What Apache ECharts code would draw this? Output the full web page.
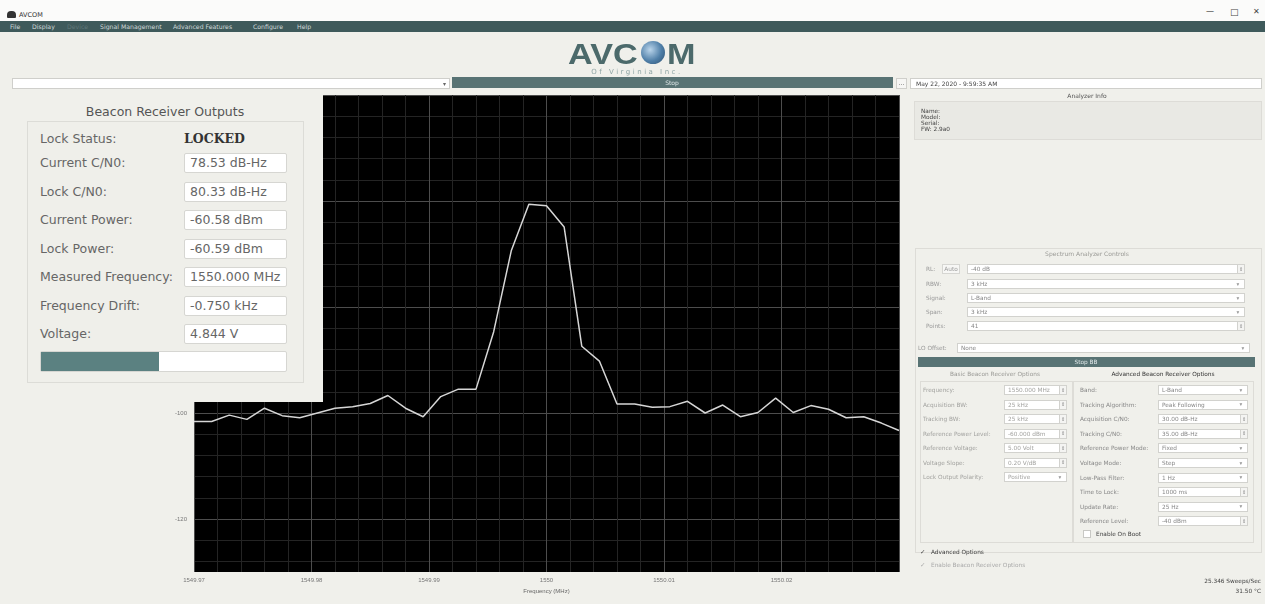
<!DOCTYPE html>
<html><head><meta charset="utf-8">
<script src="https://cdn.jsdelivr.net/npm/echarts@6/dist/echarts.min.js"></script>
<style>
html,body{margin:0;padding:0;width:1265px;height:604px;overflow:hidden;background:#f0f0eb;font-family:"DejaVu Sans",sans-serif;}
#chart{position:absolute;left:0;top:0;width:1265px;height:604px;z-index:1;}
.b{position:absolute;z-index:2;box-sizing:border-box;}
.t{position:absolute;z-index:3;white-space:nowrap;}
</style></head>
<body>
<div id="chart"></div>
<script>
// ---- data ----
const freqMHz = [1549.9700,1549.9715,1549.9730,1549.9745,1549.9760,1549.9775,1549.9790,1549.9805,1549.9820,1549.9835,
1549.9850,1549.9865,1549.9880,1549.9895,1549.9910,1549.9925,1549.9940,1549.9955,1549.9970,1549.9985,
1550.0000,1550.0015,1550.0030,1550.0045,1550.0060,1550.0075,1550.0090,1550.0105,1550.0120,1550.0135,
1550.0150,1550.0165,1550.0180,1550.0195,1550.0210,1550.0225,1550.0240,1550.0255,1550.0270,1550.0285,1550.0300];
const powerDbm = [-101.6,-101.6,-100.4,-101.2,-99.1,-100.5,-100.9,-100.0,-99.1,-98.8,
-98.2,-96.7,-99.1,-100.7,-96.9,-95.5,-95.5,-84.7,-69.4,-60.6,
-60.9,-64.9,-87.4,-90.2,-98.3,-98.3,-98.9,-98.8,-97.8,-100.0,
-98.5,-100.7,-99.9,-97.2,-99.9,-98.6,-99.3,-100.9,-100.7,-101.9,-103.3];
const yTickLabels = [-120,-100,-80,-60,-40];
const xAxisName = "Frequency (MHz)";

const outLabels = ["Current C/N0:","Lock C/N0:","Current Power:","Lock Power:","Measured Frequency:","Frequency Drift:","Voltage:"];
const outValues = ["78.53 dB-Hz","80.33 dB-Hz","-60.58 dBm","-60.59 dBm","1550.000 MHz","-0.750 kHz","4.844 V"];

// ---- helpers ----
function B(x,y,w,h,css){const d=document.createElement('div');d.className='b';d.style.cssText+=`left:${x}px;top:${y}px;width:${w}px;height:${h}px;`+(css||'');document.body.appendChild(d);return d;}
function T(x,yc,s,size,color,align,extra){const d=document.createElement('div');d.className='t';d.textContent=s;
 const lh=Math.round(size*1.3);d.style.cssText+=`top:${yc-lh/2}px;font-size:${size}px;line-height:${lh}px;color:${color};`+(extra||'');
 if(align==='center'){d.style.left=x+'px';d.style.transform='translateX(-50%)';}
 else if(align==='right'){d.style.right=(1265-x)+'px';}
 else d.style.left=x+'px';
 document.body.appendChild(d);return d;}

// ---- window chrome ----
B(0,0,1265,21,'background:#fbfbfa;');
B(7,11,9,7,'background:#333;border-radius:4px 4px 1px 1px;');
T(19,15,'AVCOM',6.5,'#333','left');
T(1206,12,'—',8,'#444','left');
T(1230,12,'□',9,'#444','left');
T(1253,12,'✕',8,'#444','left');
B(0,21,1265,11,'background:#3f5a5b;');
[['File',10,'#cfd8d8'],['Display',32,'#cfd8d8'],['Device',67,'#5f7778'],['Signal Management',100,'#cfd8d8'],['Advanced Features',173,'#cfd8d8'],['Configure',253,'#cfd8d8'],['Help',297,'#cfd8d8']]
 .forEach(m=>T(m[1],26.5,m[0],6.2,m[2],'left'));

// logo
const logoCss='font-family:"Liberation Sans",sans-serif;font-weight:bold;transform-origin:left center;transform:scaleX(1.14);';
T(568,53,'AVC',30,'#4c6a6b','left',logoCss);
B(641,41,24,23,'background:radial-gradient(circle at 38% 38%,#b9d4ea,#4f7fa8 55%,#2d4f6e);border-radius:50%;z-index:4;');
T(667,53,'M',30,'#4c6a6b','left',logoCss);
T(637,72,'Of Virginia Inc.',7,'#8fa5a5','center','letter-spacing:2.5px;');

// toolbar row
B(12,78,438,11,'background:#fff;border:1px solid #cfcfcb;');
T(443,83.5,'▾',6,'#666','left');
B(452,77,441,11,'background:#587374;');
T(672,82.5,'Stop',6,'#dfe8e8','center');
B(896,78,11,11,'background:#f6f6f4;border:1px solid #cfcfcb;');
T(901.5,82.5,'...',6,'#555','center');
B(910,78,352,11,'background:#fff;border:1px solid #cfcfcb;');
T(916,83.5,'May 22, 2020 - 9:59:35 AM',6,'#444','left');

// ---- left panel ----
B(0,90,323,312,'background:#f0f0eb;z-index:2;');
T(165,112,'Beacon Receiver Outputs',12.5,'#555','center');
B(27,121,277,262,'border:1px solid #dcdcd7;background:#efefea;z-index:2;');
T(40,139,'Lock Status:',12.5,'#666','left');
T(184,139,'LOCKED',12.5,'#333','left','font-family:"DejaVu Serif",serif;font-weight:bold;');
const rowY=[163,192,220,249,277,306,334];
outLabels.forEach((l,i)=>{
  T(40,rowY[i],l,12.5,'#666','left');
  B(184,rowY[i]-10,103,20,'background:#fff;border:1px solid #d6d6d2;border-radius:2px;z-index:3;');
  T(190,rowY[i],outValues[i],12.5,'#666','left','z-index:4;');
});
B(40,351,247,21,'background:#fff;border:1px solid #d6d6d2;border-radius:2px;z-index:3;');
B(41,352,118,19,'background:#5b8181;z-index:4;');

// ---- right panel ----
T(1087,96,'Analyzer Info',6,'#555','center');
B(914,101,348,39,'border:1px solid #dddcd7;background:#e9e9e4;');
['Name:','Model:','Serial:','FW: 2.9a0'].forEach((s,i)=>T(921,111+i*6,s,5.8,'#444','left'));

B(915,248,347,305,'border:1px solid #dddcd7;');
T(1087,254,'Spectrum Analyzer Controls',6,'#9a9a96','center');
function field(x,yc,w,val,kind,col){
  B(x,yc-5,w,10,'background:#fff;border:1px solid #d2d2ce;');
  T(x+4,yc,val,5.8,col||'#888','left');
  if(kind==='spin'){B(x+w-8,yc-5,8,10,'background:#f4f4f2;border:1px solid #d2d2ce;');T(x+w-4,yc,'⇕',5,'#888','center');}
  if(kind==='combo'){T(x+w-7,yc,'▾',5.5,'#999','center');}
}
T(926,269,'RL:',5.8,'#999','left');
B(942,264,18,10,'background:#f7f7f5;border:1px solid #d6d6d2;');T(951,269,'Auto',5.8,'#999','center');
field(967,269,278,'-40 dB','spin');
[['RBW:','3 kHz','combo',284],['Signal:','L-Band','combo',298],['Span:','3 kHz','combo',312],['Points:','41','spin',326]].forEach(r=>{
  T(926,r[3],r[0],5.8,'#999','left');field(967,r[3],278,r[1],r[2]);});
T(918,348,'LO Offset:',5.8,'#999','left');field(957,348,293,'None','combo');
B(918,357,337,10,'background:#587374;');T(1086,362,'Stop BB',5.8,'#dfe8e8','center');
T(995,374,'Basic Beacon Receiver Options',5.8,'#9a9a96','center');
T(1163,374,'Advanced Beacon Receiver Options',5.8,'#333','center');
B(920,381,153,162,'border:1px solid #dddcd7;');
B(1073,381,181,162,'border:1px solid #dddcd7;');
const basicL=['Frequency:','Acquisition BW:','Tracking BW:','Reference Power Level:','Reference Voltage:','Voltage Slope:','Lock Output Polarity:'];
const basicV=['1550.000 MHz','25 kHz','25 kHz','-60.000 dBm','5.00 Volt','0.20 V/dB','Positive'];
basicL.forEach((l,i)=>{const y=390+i*14.5;T(923,y,l,5.8,'#a3a3a0','left');field(1004,y,63,basicV[i],i===6?'combo':'spin','#a3a3a0');});
const advL=['Band:','Tracking Algorithm:','Acquisition C/N0:','Tracking C/N0:','Reference Power Mode:','Voltage Mode:','Low-Pass Filter:','Time to Lock:','Update Rate:','Reference Level:'];
const advV=['L-Band','Peak Following','30.00 dB-Hz','35.00 dB-Hz','Fixed','Step','1 Hz','1000 ms','25 Hz','-40 dBm'];
const advK=['combo','combo','spin','spin','combo','combo','combo','spin','combo','spin'];
advL.forEach((l,i)=>{const y=390+i*14.6;T(1080,y,l,5.8,'#888','left');field(1158,y,90,advV[i],advK[i],'#888');});
B(1083,530,8,8,'background:#fff;border:1px solid #c8c8c4;');T(1096,534,'Enable On Boot',5.8,'#444','left');
T(920,552,'✓',6.5,'#444','left');T(931,552,'Advanced Options',5.8,'#444','left');
T(920,565,'✓',6.5,'#aaa','left');T(931,565,'Enable Beacon Receiver Options',5.8,'#aaa','left');
T(1261,581,'25.346 Sweeps/Sec',5.8,'#444','right');
T(1261,591,'31.50 °C',5.8,'#444','right');

// ---- chart ----
const chart = echarts.init(document.getElementById('chart'));
const MAJ='#4d4d4d', MIN='#242424', NONE='rgba(0,0,0,0)';
chart.setOption({
  animation:false,
  backgroundColor:'transparent',
  grid:{left:194,top:95,width:705,height:477,show:true,backgroundColor:'#000',borderWidth:0},
  xAxis:{type:'value',min:1549.97,max:1550.03,interval:0.01,
    name:xAxisName,nameLocation:'middle',nameGap:15,nameTextStyle:{fontSize:6,color:'#666'},
    axisLine:{show:false},axisTick:{show:false},
    axisLabel:{fontSize:6,color:'#777',margin:5,showMaxLabel:false,formatter:v=>String(parseFloat(v.toFixed(2)))},
    splitLine:{show:true,lineStyle:{color:MAJ,width:1}},
    minorTick:{show:false,splitNumber:5},
    minorSplitLine:{show:true,lineStyle:{color:MIN,width:1}}},
  yAxis:{type:'value',min:-130,max:-40,interval:2,
    axisLine:{show:false},axisTick:{show:false},
    axisLabel:{fontSize:6,color:'#777',margin:7,formatter:v=>{const r=Math.round(v);return yTickLabels.indexOf(r)>=0?String(r):'';}},
    splitLine:{show:true,lineStyle:{width:1,color:[NONE,MIN,NONE,MIN,NONE,MAJ,NONE,MIN,NONE,MIN]}}},
  series:[{type:'line',data:freqMHz.map((f,i)=>[f,powerDbm[i]]),showSymbol:false,
    lineStyle:{color:'#d6d6d6',width:1.5},z:5}]
});
</script>
</body></html>
